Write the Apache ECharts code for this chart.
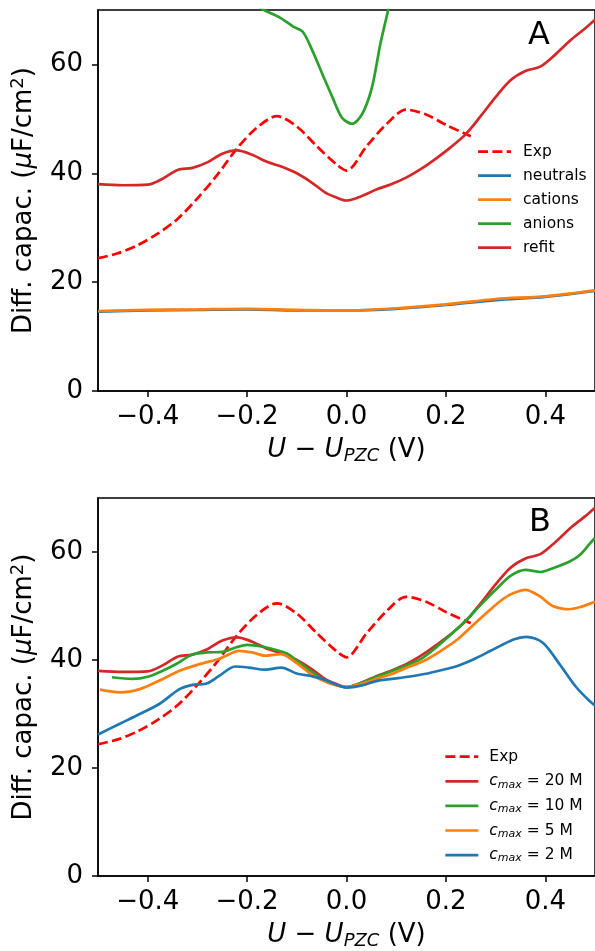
<!DOCTYPE html>
<html>
<head>
<meta charset="utf-8">
<script src="https://cdn.jsdelivr.net/npm/echarts@6/dist/echarts.min.js"></script>
<style>
  html, body { margin: 0; padding: 0; background: #fff; }
  #chart { width: 595px; height: 951px; }
</style>
</head>
<body>
<div id="chart"></div>
<script>
// Tick positions
const xTicks = [-0.4, -0.2, 0.0, 0.2, 0.4];
const yTicks = [0, 20, 40, 60];

// Experimental differential capacitance (µF/cm²) vs potential (V)
const expU = [-0.5, -0.46, -0.42, -0.38, -0.34, -0.30, -0.26, -0.22, -0.18, -0.14, -0.10, -0.06, -0.02, 0.0, 0.04, 0.08, 0.12, 0.16, 0.20, 0.25];
const expC = [24.4, 25.3, 26.8, 28.9, 31.6, 35.4, 39.7, 44.6, 48.4, 50.5, 48.6, 45.0, 41.6, 40.5, 44.9, 49.0, 51.7, 50.8, 48.9, 46.8];

// Refit (also the c_max = 20 M curve)
const refitU = [-0.5, -0.45, -0.40, -0.37, -0.34, -0.31, -0.28, -0.25, -0.22, -0.19, -0.16, -0.13, -0.10, -0.07, -0.04, -0.01, 0.0, 0.03, 0.06, 0.09, 0.12, 0.15, 0.18, 0.21, 0.24, 0.27, 0.30, 0.33, 0.36, 0.39, 0.42, 0.45, 0.48, 0.5];
const refitC = [38.0, 37.8, 37.9, 39.0, 40.6, 41.0, 42.0, 43.6, 44.2, 43.4, 42.1, 41.2, 40.0, 38.3, 36.3, 35.2, 35.0, 35.8, 37.0, 38.0, 39.2, 40.8, 42.7, 44.8, 47.2, 50.5, 54.0, 57.1, 58.8, 59.6, 61.8, 64.4, 66.6, 68.2];

// Single-species contributions (panel A)
const ionU = [-0.5, -0.4, -0.3, -0.2, -0.1, 0.0, 0.1, 0.2, 0.3, 0.4, 0.5];
const neutralsC = [14.6, 14.8, 14.9, 15.0, 14.8, 14.8, 15.1, 15.8, 16.7, 17.3, 18.4];
const cationsC = [14.7, 14.9, 15.0, 15.1, 14.9, 14.8, 15.2, 15.9, 16.9, 17.4, 18.5];
const anionU = [-0.19, -0.168, -0.134, -0.108, -0.088, -0.068, -0.048, -0.028, -0.009, 0.011, 0.031, 0.051, 0.068, 0.084, 0.095];
const anionC = [71.5, 70.1, 68.6, 67.0, 66.0, 62.4, 58.1, 53.9, 50.2, 49.1, 50.8, 55.7, 63.7, 70.1, 75.0];

// Fits for different maximum concentrations (panel B)
const c10U = [-0.472, -0.43, -0.40, -0.37, -0.34, -0.31, -0.28, -0.25, -0.22, -0.20, -0.17, -0.14, -0.12, -0.10, -0.07, -0.04, -0.01, 0.0, 0.03, 0.06, 0.09, 0.12, 0.15, 0.18, 0.21, 0.24, 0.27, 0.30, 0.33, 0.36, 0.39, 0.415, 0.45, 0.47, 0.49, 0.5];
const c10C = [36.8, 36.5, 36.9, 38.0, 39.4, 41.0, 41.4, 41.5, 42.4, 42.8, 42.5, 41.8, 41.2, 39.9, 37.8, 36.0, 35.1, 35.0, 35.8, 36.9, 37.9, 39.0, 40.2, 42.3, 44.7, 47.3, 50.2, 53.0, 55.6, 56.7, 56.3, 57.0, 58.3, 59.5, 61.6, 62.6];
const c5U = [-0.496, -0.456, -0.416, -0.376, -0.336, -0.297, -0.257, -0.24, -0.217, -0.19, -0.164, -0.131, -0.10, -0.07, -0.04, -0.01, 0.0, 0.031, 0.06, 0.091, 0.12, 0.157, 0.19, 0.223, 0.255, 0.29, 0.315, 0.336, 0.36, 0.389, 0.415, 0.449, 0.47, 0.5];
const c5C = [34.5, 34.0, 34.6, 36.2, 38.0, 39.2, 40.2, 40.9, 41.7, 41.4, 40.8, 41.1, 39.4, 37.3, 35.9, 35.1, 35.0, 35.6, 36.5, 37.4, 38.5, 39.9, 41.7, 43.8, 46.5, 49.4, 51.3, 52.4, 53.0, 51.8, 50.0, 49.4, 49.8, 50.8];
const c2U = [-0.5, -0.456, -0.416, -0.376, -0.336, -0.31, -0.283, -0.257, -0.224, -0.197, -0.164, -0.131, -0.10, -0.07, -0.048, -0.02, 0.0, 0.031, 0.06, 0.091, 0.124, 0.157, 0.19, 0.223, 0.255, 0.29, 0.336, 0.362, 0.395, 0.429, 0.462, 0.488, 0.5];
const c2C = [26.2, 28.2, 30.0, 31.9, 34.6, 35.4, 35.6, 37.0, 38.8, 38.6, 38.2, 38.6, 37.5, 37.0, 36.5, 35.4, 34.9, 35.3, 36.1, 36.5, 36.9, 37.4, 38.1, 38.9, 40.1, 41.7, 43.8, 44.3, 43.2, 39.2, 35.0, 32.5, 31.6];

const legendA = ['Exp', 'neutrals', 'cations', 'anions', 'refit'];
const cmaxLabels = ['20 M', '10 M', '5 M', '2 M'];

const FONT = 'DejaVu Sans';
const C_BLUE = '#1f77b4', C_ORANGE = '#ff7f0e', C_GREEN = '#2ca02c', C_RED = '#d62728';
const LW = 2.7;

function pairs(u, c) { return u.map((v, i) => [v, c[i]]); }
function fmtX(v) {
  const s = Math.abs(v).toFixed(1);
  return v < -1e-9 ? '\u2212' + s : s;
}

function line(name, u, c, color, idx, dashed) {
  return {
    type: 'line', name: name, xAxisIndex: idx, yAxisIndex: idx,
    data: pairs(u, c), symbol: 'none', smooth: 0.3, clip: true,
    lineStyle: { color: color, width: LW, type: dashed ? [10, 4.3] : 'solid' },
    itemStyle: { color: color },
    emphasis: { disabled: true }, animation: false
  };
}

const axisLineStyle = { color: '#000', width: 1.5 };

function xAxis(idx) {
  return {
    type: 'value', gridIndex: idx, min: -0.5, max: 0.5,
    axisLine: { show: true, onZero: false, lineStyle: axisLineStyle },
    axisTick: { show: true, length: 6, lineStyle: axisLineStyle, customValues: xTicks },
    axisLabel: { customValues: xTicks, formatter: fmtX, fontSize: 26, fontFamily: FONT, color: '#000', margin: 13 },
    splitLine: { show: false },
    name: '{i|U} \u2212 {i|U}{s|PZC} (V)',
    nameLocation: 'middle', nameGap: 44,
    nameTextStyle: {
      fontSize: 26, fontFamily: FONT, color: '#000', lineHeight: 30,
      rich: {
        i: { fontStyle: 'italic', fontSize: 26, fontFamily: FONT, color: '#000', lineHeight: 30 },
        s: { fontStyle: 'italic', fontSize: 18, fontFamily: FONT, color: '#000', lineHeight: 14, verticalAlign: 'bottom' }
      }
    }
  };
}

function yAxis(idx) {
  return {
    type: 'value', gridIndex: idx, min: 0, max: 70,
    axisLine: { show: true, onZero: false, lineStyle: axisLineStyle },
    axisTick: { show: true, length: 6, lineStyle: axisLineStyle, customValues: yTicks },
    axisLabel: { customValues: yTicks, fontSize: 26, fontFamily: FONT, color: '#000', margin: 15 },
    splitLine: { show: false },
    name: 'Diff. capac. ({i|\u03bc}F/cm{p|2})',
    nameLocation: 'middle', nameGap: 57, nameRotate: 90,
    nameTextStyle: {
      fontSize: 26, fontFamily: FONT, color: '#000', lineHeight: 30,
      rich: {
        i: { fontStyle: 'italic', fontSize: 26, fontFamily: FONT, color: '#000', lineHeight: 30 },
        p: { fontSize: 18, fontFamily: FONT, color: '#000', lineHeight: 14, verticalAlign: 'top' }
      }
    }
  };
}

const chart = echarts.init(document.getElementById('chart'), null, { renderer: 'canvas' });

const cmaxNames = cmaxLabels.map(l => 'c_max = ' + l);

// legend handles are plain line segments (no marker)
const legendMarker = { opacity: 0, borderWidth: 0 };
const legendLine = { width: LW };

chart.setOption({
  backgroundColor: '#fff',
  animation: false,
  grid: [
    { left: 98, top: 10, width: 503, height: 381, show: true, borderColor: '#000', borderWidth: 1.5, containLabel: false },
    { left: 98, top: 498, width: 503, height: 380.5, show: true, borderColor: '#000', borderWidth: 1.5, containLabel: false }
  ],
  xAxis: [xAxis(0), xAxis(1)],
  yAxis: [yAxis(0), yAxis(1)],
  legend: [
    {
      orient: 'vertical', left: 476.7, top: 143.7, padding: 0,
      itemWidth: 33, itemHeight: 16, itemGap: 8,
      data: legendA, selectedMode: false,
      itemStyle: legendMarker, lineStyle: legendLine,
      textStyle: { fontFamily: FONT, fontSize: 15.5, color: '#000', lineHeight: 16, padding: [0, 0, 0, 7] }
    },
    {
      orient: 'vertical', left: 444, top: 747.7, padding: 0,
      itemWidth: 33, itemHeight: 16, itemGap: 6.6,
      data: ['Exp'].concat(cmaxNames), selectedMode: false,
      itemStyle: legendMarker, lineStyle: legendLine,
      formatter: function (name) {
        if (name.indexOf('c_max = ') === 0) {
          return '{c|c}{s|max}{t| = ' + name.slice(8) + '}';
        }
        return '{t|' + name + '}';
      },
      textStyle: {
        fontFamily: FONT, fontSize: 15.5, color: '#000', lineHeight: 16, padding: [0, 0, 0, 6],
        rich: {
          t: { fontFamily: FONT, fontSize: 15.5, color: '#000', lineHeight: 18 },
          c: { fontFamily: FONT, fontSize: 15.5, fontStyle: 'italic', color: '#000', lineHeight: 18 },
          s: { fontFamily: FONT, fontSize: 11, fontStyle: 'italic', color: '#000', lineHeight: 10, verticalAlign: 'bottom' }
        }
      }
    }
  ],
  graphic: [
    { type: 'text', left: 528, top: 20, style: { text: 'A', font: '32px "DejaVu Sans"', fill: '#000' } },
    { type: 'text', left: 529, top: 507, style: { text: 'B', font: '32px "DejaVu Sans"', fill: '#000' } }
  ],
  series: [
    line('Exp', expU, expC, '#ff0000', 0, true),
    line('neutrals', ionU, neutralsC, C_BLUE, 0, false),
    line('cations', ionU, cationsC, C_ORANGE, 0, false),
    line('anions', anionU, anionC, C_GREEN, 0, false),
    line('refit', refitU, refitC, C_RED, 0, false),
    line('Exp', expU, expC, '#ff0000', 1, true),
    line(cmaxNames[0], refitU, refitC, C_RED, 1, false),
    line(cmaxNames[1], c10U, c10C, C_GREEN, 1, false),
    line(cmaxNames[2], c5U, c5C, C_ORANGE, 1, false),
    line(cmaxNames[3], c2U, c2C, C_BLUE, 1, false)
  ]
});
</script>
</body>
</html>
